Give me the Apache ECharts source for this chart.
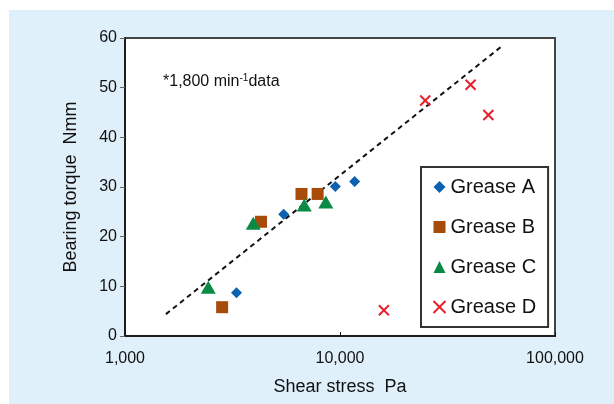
<!DOCTYPE html>
<html>
<head>
<meta charset="utf-8">
<script src="https://cdn.jsdelivr.net/npm/echarts@6/dist/echarts.min.js"></script>
<style>
  html, body { margin: 0; padding: 0; background: #fff; }
  #echart-div { width: 614px; height: 404px; }
</style>
</head>
<body>
<div id="echart-div"></div>
<script>
// shear stress (Pa), bearing torque (Nmm)
const greaseA = [[3300, 8.7], [5470, 24.5], [9510, 30.1], [11700, 31.1]];
const greaseB = [[2830, 5.8], [4290, 23.0], [6620, 28.6], [7870, 28.6]];
const greaseC = [[2440, 9.8], [3950, 22.7], [6820, 26.4], [8590, 27.0]];
const greaseD = [[16000, 5.2], [24900, 47.4], [40500, 50.6], [49000, 44.5]];
const trendLine = [[1550, 4.4], [56000, 58.2]];
const seriesNames = ['Grease A', 'Grease B', 'Grease C', 'Grease D'];
const xTicks = [1000, 10000, 100000];

(()=>{
  const font = '"Liberation Sans", Arial, sans-serif';
  const crossPath = 'path://M0,0L10,10M10,0L0,10';
  const myChart = echarts.init(document.getElementById('echart-div'));

  const option = {
    backgroundColor: '#fff',
    textStyle: { fontFamily: font },
    graphic: [
      {
        type: 'rect', z: -10, silent: true,
        shape: { x: 9, y: 10, width: 605, height: 394 },
        style: { fill: '#dff0fa' }
      },
      {
        type: 'text', left: 163, top: 73, z: 10,
        style: {
          text: '*1,800 min{sup|-1}data',
          font: '16px ' + font,
          fill: '#111',
          rich: {
            sup: { fontSize: 10, verticalAlign: 'top', padding: [0, 0, 8, 0], fontFamily: font }
          }
        }
      }
    ],
    grid: {
      left: 125, top: 38, width: 430, height: 298,
      show: true, backgroundColor: '#fff',
      borderColor: '#444', borderWidth: 2
    },
    legend: {
      orient: 'vertical',
      left: 421, top: 167,
      padding: [10, 12, 10, 10],
      itemGap: 20,
      itemWidth: 12, itemHeight: 12,
      backgroundColor: '#fff',
      borderColor: '#333', borderWidth: 2,
      textStyle: { fontSize: 20, color: '#111', fontFamily: font },
      data: seriesNames
    },
    xAxis: {
      type: 'log', logBase: 10,
      min: xTicks[0], max: xTicks[xTicks.length - 1],
      name: 'Shear stress  Pa',
      nameLocation: 'middle', nameGap: 42,
      nameTextStyle: { fontSize: 18, color: '#111', fontFamily: font },
      axisLine: { lineStyle: { color: '#111', width: 1.5 } },
      axisTick: { inside: true, length: 4, lineStyle: { color: '#111' } },
      axisLabel: {
        fontSize: 16, color: '#111', margin: 15,
        formatter: (v)=> Math.round(v).toLocaleString('en-US')
      },
      splitLine: { show: false },
      minorTick: { show: false }
    },
    yAxis: {
      type: 'value', min: 0, max: 60, interval: 10,
      name: 'Bearing torque  Nmm',
      nameLocation: 'middle', nameGap: 45,
      nameTextStyle: { fontSize: 18, color: '#111', fontFamily: font },
      axisLine: { show: true, lineStyle: { color: '#111', width: 1.5 } },
      axisTick: { show: true, length: 5, lineStyle: { color: '#666' } },
      axisLabel: { fontSize: 16, color: '#111', margin: 8 },
      splitLine: { show: false }
    },
    series: [
      {
        name: 'trend', type: 'line', data: trendLine,
        symbol: 'none', silent: true, z: 1,
        lineStyle: { color: '#111', width: 2, type: [5, 4] }
      },
      {
        name: seriesNames[0], type: 'scatter', data: greaseA,
        symbol: 'diamond', symbolSize: 11, z: 3,
        itemStyle: { color: '#0b62b0', opacity: 1 }
      },
      {
        name: seriesNames[1], type: 'scatter', data: greaseB,
        symbol: 'rect', symbolSize: 12, z: 3,
        itemStyle: { color: '#a64b0a', opacity: 1 }
      },
      {
        name: seriesNames[2], type: 'scatter', data: greaseC,
        symbol: 'triangle', symbolSize: [15, 13], z: 3,
        itemStyle: { color: '#0a8a45', opacity: 1 }
      },
      {
        name: seriesNames[3], type: 'scatter', data: greaseD,
        symbol: crossPath, symbolSize: 10, z: 3,
        itemStyle: { color: 'none', borderColor: '#e8202a', borderWidth: 2, opacity: 1 }
      }
    ]
  };

  myChart.setOption(option);
})();
</script>
</body>
</html>
